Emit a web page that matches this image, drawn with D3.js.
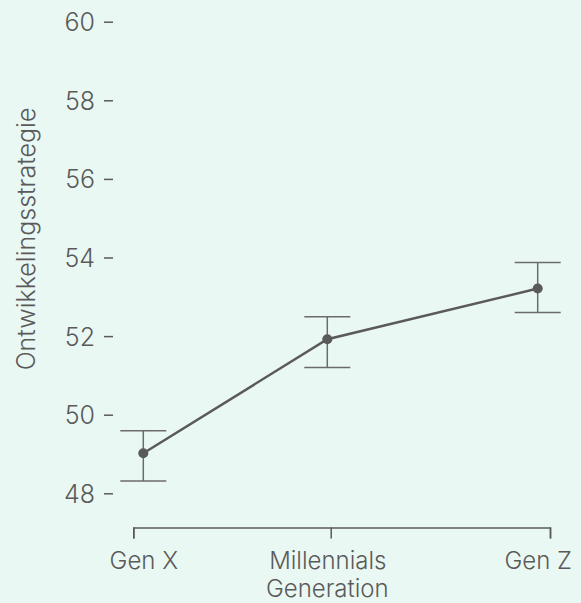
<!DOCTYPE html>
<html>
<head>
<meta charset="utf-8">
<script src="https://cdn.jsdelivr.net/npm/d3@7"></script>
<style>
  html, body { margin: 0; padding: 0; background: #eaf8f3; }
  svg text { font-family: Inter, "Open Sans", sans-serif; font-weight: 300; fill: #5a5a5a; }
</style>
</head>
<body>
<div id="chart"></div>
<script>
// Data
var generations = ["Gen X", "Millennials", "Gen Z"];
var means = [49.02, 51.92, 53.21];
var lower = [48.31, 51.20, 52.60];
var upper = [49.59, 52.49, 53.87];
var yTicks = [48, 50, 52, 54, 56, 58, 60];

var width = 581, height = 603;
var ink = "#5a5a5a";
var fontSize = "25px";

var svg = d3.select("#chart").append("svg")
  .attr("width", width)
  .attr("height", height);

// scales (category positions are not evenly spaced in the original)
var x = d3.scaleOrdinal().domain(generations).range([143.3, 327.3, 537.7]);
var xBracket = d3.scaleOrdinal().domain(generations).range([133.3, 330.7, 550]);
var y = d3.scaleLinear().domain([48, 60]).range([493.3, 21.7]);

// y axis: short dashes, no domain line
var yAxisGroup = svg.append("g")
  .attr("transform", "translate(113,0)")
  .call(d3.axisLeft(y).tickValues(yTicks).tickSize(9).tickPadding(9));
yAxisGroup.select(".domain").remove();
yAxisGroup.selectAll("line").attr("stroke", ink).attr("stroke-width", 1.5);
yAxisGroup.selectAll("text")
  .attr("font-size", fontSize)
  .attr("dy", "0.36em")
  .attr("font-family", null);

// x bracket (axis line with ticks, labels drawn separately)
var bracket = svg.append("g")
  .attr("transform", "translate(0,527.5)")
  .call(d3.axisBottom(xBracket).tickSize(11).tickSizeOuter(11).tickFormat(""));
bracket.select(".domain").attr("stroke", ink).attr("stroke-width", 1.5);
bracket.selectAll(".tick line").attr("stroke", ink).attr("stroke-width", 1.5);

var xLabels = svg.append("g")
  .attr("transform", "translate(0,527.5)")
  .call(d3.axisBottom(x).tickSize(0).tickPadding(0));
xLabels.select(".domain").remove();
xLabels.selectAll("text")
  .attr("font-size", "24px")
  .attr("font-family", null)
  .attr("y", 41)
  .attr("dy", 0);

// axis titles
svg.append("text")
  .attr("x", x("Millennials"))
  .attr("y", 597)
  .attr("text-anchor", "middle")
  .attr("font-size", "24px")
  .text("Generation");

svg.append("text")
  .attr("transform", "translate(35,239) rotate(-90)")
  .attr("text-anchor", "middle")
  .attr("font-size", fontSize)
  .text("Ontwikkelingsstrategie");

// error bars
var errGroup = svg.append("g").attr("class", "errors");
generations.forEach(function (g, i) {
  var cx = x(g);
  errGroup.append("line")
    .attr("x1", cx).attr("x2", cx)
    .attr("y1", y(upper[i])).attr("y2", y(lower[i]))
    .attr("stroke", "#6b6b6b").attr("stroke-width", 1.5);
  [upper[i], lower[i]].forEach(function (v) {
    errGroup.append("line")
      .attr("x1", cx - 23).attr("x2", cx + 23)
      .attr("y1", y(v)).attr("y2", y(v))
      .attr("stroke", "#6b6b6b").attr("stroke-width", 1.5);
  });
});

// mean line + points
var line = d3.line()
  .x(function (d, i) { return x(generations[i]); })
  .y(function (d) { return y(d); });

svg.append("path")
  .datum(means)
  .attr("d", line)
  .attr("fill", "none")
  .attr("stroke", ink)
  .attr("stroke-width", 2.5);

svg.selectAll("circle.pt")
  .data(means).enter()
  .append("circle")
  .attr("class", "pt")
  .attr("cx", function (d, i) { return x(generations[i]); })
  .attr("cy", function (d) { return y(d); })
  .attr("r", 5)
  .attr("fill", ink);
</script>
</body>
</html>
